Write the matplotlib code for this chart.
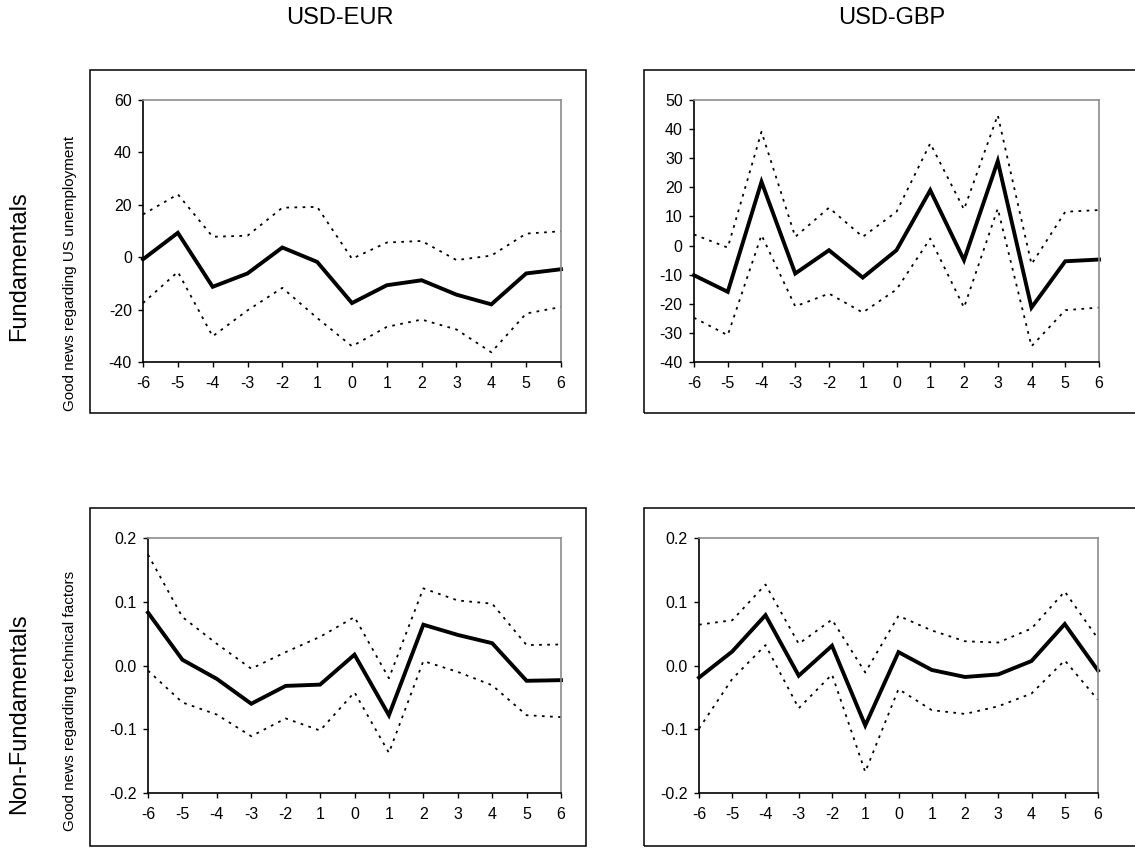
import numpy as np
import matplotlib
matplotlib.use('Agg')
import matplotlib.pyplot as plt
from matplotlib.patches import Rectangle

plt.rcParams['font.family'] = ['Liberation Sans', 'DejaVu Sans']

# x-axis labels (as printed in the source, incl. the "1" in place of -1)
lags = ['-6', '-5', '-4', '-3', '-2', '1', '0', '1', '2', '3', '4', '5', '6']

# USD-EUR, fundamentals (US unemployment)
eur_fund = [-0.8, 9.3, -11.3, -6.2, 3.7, -1.8, -17.5, -10.7, -8.8, -14.3, -18.0, -6.2, -4.6]
eur_fund_hi = [16.3, 24.0, 7.8, 8.2, 18.9, 19.2, -0.6, 5.6, 6.2, -1.1, 0.6, 9.0, 9.9]
eur_fund_lo = [-17.5, -5.6, -30.2, -20.3, -11.7, -23.2, -34.0, -26.6, -23.8, -27.6, -36.3, -21.5, -19.0]

# USD-GBP, fundamentals
gbp_fund = [-10.2, -15.9, 21.9, -9.6, -1.6, -11.0, -1.6, 19.0, -5.0, 29.0, -21.3, -5.4, -4.8]
gbp_fund_hi = [3.8, -0.7, 39.1, 3.0, 13.0, 3.0, 11.6, 35.1, 12.4, 44.8, -6.4, 11.6, 12.2]
gbp_fund_lo = [-24.8, -30.8, 3.6, -20.9, -16.5, -23.0, -15.1, 2.4, -21.3, 12.7, -34.6, -22.2, -21.3]

# USD-EUR, non-fundamentals (technical factors)
eur_tech = [0.083, 0.009, -0.021, -0.060, -0.032, -0.030, 0.017, -0.078, 0.064, 0.048, 0.035, -0.024, -0.023]
eur_tech_hi = [0.174, 0.076, 0.034, -0.005, 0.021, 0.045, 0.076, -0.020, 0.121, 0.102, 0.097, 0.032, 0.033]
eur_tech_lo = [-0.008, -0.058, -0.077, -0.111, -0.083, -0.102, -0.042, -0.137, 0.007, -0.010, -0.031, -0.078, -0.081]

# USD-GBP, non-fundamentals
gbp_tech = [-0.019, 0.022, 0.079, -0.016, 0.031, -0.094, 0.021, -0.007, -0.018, -0.014, 0.007, 0.065, -0.008]
gbp_tech_hi = [0.064, 0.071, 0.127, 0.034, 0.072, -0.011, 0.078, 0.055, 0.038, 0.036, 0.058, 0.116, 0.042]
gbp_tech_lo = [-0.099, -0.021, 0.032, -0.067, -0.014, -0.167, -0.037, -0.070, -0.076, -0.064, -0.044, 0.008, -0.054]

W, H = 1135, 848


def px(x0, y0, x1, y1):
    # pixel box -> figure fraction [left, bottom, width, height]
    return [x0 / W, 1 - y1 / H, (x1 - x0) / W, (y1 - y0) / H]


fig = plt.figure(figsize=(W / 100, H / 100), dpi=100)

# outer frames
for b in [(90, 70, 586, 413), (644, 70, 1140, 413), (90, 508, 586, 846), (644, 508, 1140, 846)]:
    r = px(*b)
    fig.add_artist(Rectangle((r[0], r[1]), r[2], r[3], transform=fig.transFigure,
                             fill=False, ec='black', lw=1.1))

panels = [
    (px(143, 100, 561, 362), eur_fund, eur_fund_hi, eur_fund_lo, (-40, 60), np.arange(-40, 61, 20), '{:.0f}'),
    (px(694, 100, 1099, 362), gbp_fund, gbp_fund_hi, gbp_fund_lo, (-40, 50), np.arange(-40, 51, 10), '{:.0f}'),
    (px(148, 538, 561, 793), eur_tech, eur_tech_hi, eur_tech_lo, (-0.2, 0.2), np.arange(-0.2, 0.21, 0.1), '{:.1f}'),
    (px(699, 538, 1098, 793), gbp_tech, gbp_tech_hi, gbp_tech_lo, (-0.2, 0.2), np.arange(-0.2, 0.21, 0.1), '{:.1f}'),
]

x = np.arange(len(lags))
for pos, mid, hi, lo, ylim, yt, fmt in panels:
    ax = fig.add_axes(pos)
    ax.plot(x, hi, color='black', lw=1.3, ls=(0, (1.5, 3)), clip_on=False)
    ax.plot(x, lo, color='black', lw=1.3, ls=(0, (1.5, 3)), clip_on=False)
    ax.plot(x, mid, color='black', lw=2.8, solid_joinstyle='miter', clip_on=False)
    ax.set_xlim(0, 12)
    ax.set_ylim(*ylim)
    ax.set_xticks(x)
    ax.set_xticklabels(lags)
    ax.set_yticks(yt)
    ax.set_yticklabels([fmt.format(v + 0.0) for v in yt])
    ax.tick_params(direction='out', length=3.6, width=1, labelsize=11.5, colors='black')
    ax.tick_params(axis='x', pad=6.5)
    ax.tick_params(axis='y', pad=4.5)
    ax.spines['left'].set_color('black')
    ax.spines['bottom'].set_color('black')
    ax.spines['top'].set_color('#8c8c8c')
    ax.spines['right'].set_color('#8c8c8c')
    for s in ax.spines.values():
        s.set_linewidth(1.2)

fig.text(340 / W, 1 - 18 / H, 'USD-EUR', ha='center', va='center', fontsize=17)
fig.text(892 / W, 1 - 18 / H, 'USD-GBP', ha='center', va='center', fontsize=17)
fig.text(19 / W, 1 - 266 / H, 'Fundamentals', ha='center', va='center', rotation=90, fontsize=17)
fig.text(19 / W, 1 - 714 / H, 'Non-Fundamentals', ha='center', va='center', rotation=90, fontsize=17)
fig.text(70 / W, 1 - 273 / H, 'Good news regarding US unemployment', ha='center', va='center',
         rotation=90, fontsize=11)
fig.text(70 / W, 1 - 701 / H, 'Good news regarding technical factors', ha='center', va='center',
         rotation=90, fontsize=11)

fig.savefig('out.png', dpi=100)
